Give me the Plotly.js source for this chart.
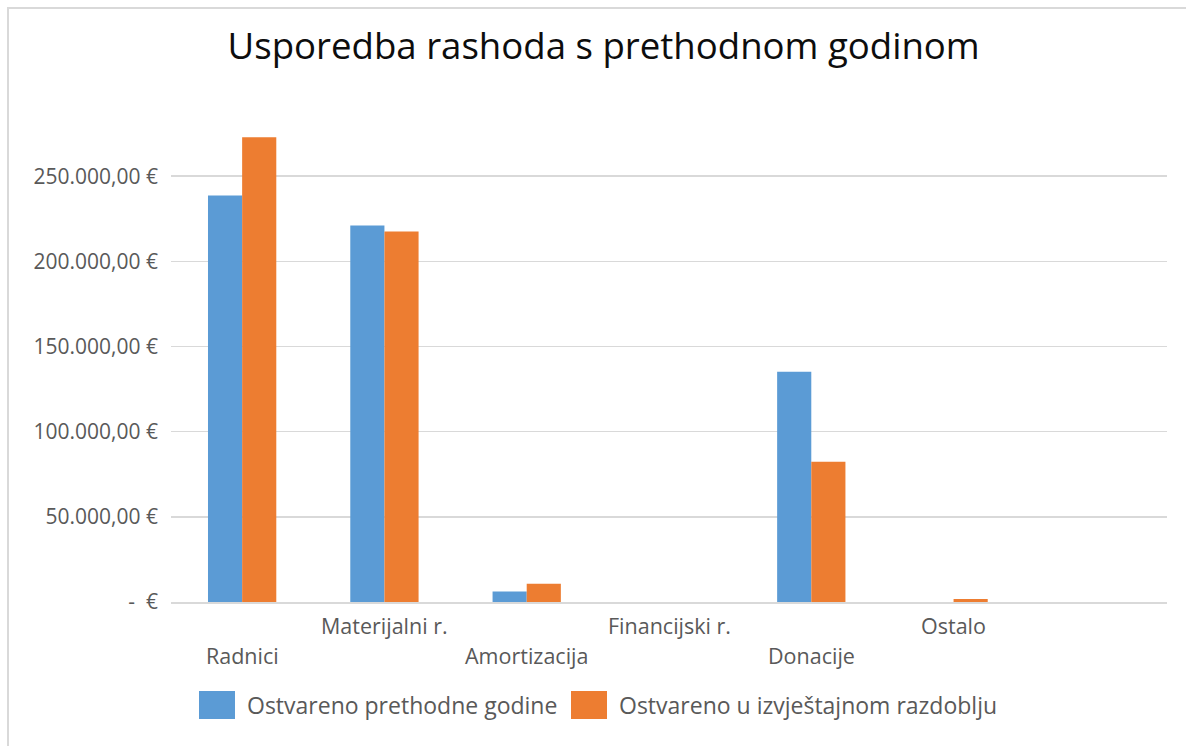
<!DOCTYPE html>
<html>
<head>
<meta charset="utf-8">
<script src="https://cdn.plot.ly/plotly-3.0.1.min.js"></script>
<style>
  html, body { margin: 0; padding: 0; background: #ffffff; overflow: hidden; }
  #chart { position: absolute; left: 0; top: 0; width: 1186px; height: 746px; }
  #frame { position: absolute; left: 7px; top: 7px; width: 1300px; height: 900px;
           border-left: 2px solid #d9d9d9; border-top: 2px solid #d9d9d9; pointer-events: none; }
</style>
</head>
<body>
<div id="chart"></div>
<div id="frame"></div>
<script>
// ---- data ----
const categories = ["Radnici", "Materijalni r.", "Amortizacija", "Financijski r.", "Donacije", "Ostalo"];
const seriesNames = ["Ostvareno prethodne godine", "Ostvareno u izvještajnom razdoblju"];
const prevYear = [238600, 221000, 6200, 0, 135200, 0];
const currPeriod = [272900, 217500, 10700, 0, 82400, 1800];
const yTickVals = [0, 50000, 100000, 150000, 200000, 250000];
const yTickText = ["-  €", "50.000,00 €", "100.000,00 €", "150.000,00 €", "200.000,00 €", "250.000,00 €"];
const colors = ["#5B9BD5", "#ED7D31"];

const FONT = "Open Sans, Segoe UI, Liberation Sans, sans-serif";
const GREY = "#595959";

const traces = [
  { type: "bar", x: categories, y: prevYear, name: seriesNames[0],
    marker: { color: colors[0] }, hoverinfo: "x+y+name" },
  { type: "bar", x: categories, y: currPeriod, name: seriesNames[1],
    marker: { color: colors[1] }, hoverinfo: "x+y+name" }
];

// staggered category labels (Excel style)
const catAnnotations = categories.map((c, i) => ({
  x: c, xref: "x", y: 0, yref: "y",
  text: c, showarrow: false,
  xanchor: "center", yanchor: "middle",
  yshift: (i % 2 === 0) ? -53 : -23,
  font: { family: FONT, size: 21.5, color: GREY }
}));

// custom legend (large square swatches)
const plotL = 171, plotW = 996, plotB = 602, plotH = 511;
const px = v => (v - plotL) / plotW;
const py = v => (plotB - v) / plotH;
const legendItems = [
  { sw: [199, 235], tx: 245 },
  { sw: [571, 607], tx: 617 }
];
const legendShapes = legendItems.map((it, i) => ({
  type: "rect", xref: "paper", yref: "paper",
  x0: px(it.sw[0]), x1: px(it.sw[1]), y0: py(719), y1: py(691),
  fillcolor: colors[i], line: { width: 0 }
}));
const legendTexts = legendItems.map((it, i) => ({
  xref: "paper", yref: "paper", x: px(it.tx), y: py(705),
  text: seriesNames[i], showarrow: false, xanchor: "left", yanchor: "middle",
  font: { family: FONT, size: 23, color: GREY }
}));

const layout = {
  width: 1186, height: 746,
  paper_bgcolor: "#ffffff", plot_bgcolor: "#ffffff",
  margin: { l: 171, r: 19, t: 91, b: 144, pad: 0 },
  title: {
    text: "Usporedba rashoda s prethodnom godinom",
    font: { family: FONT, size: 36.6, color: "#0d0d0d" },
    xref: "container", x: 0.509, xanchor: "center",
    yref: "container", y: 1 - 46 / 746, yanchor: "middle"
  },
  showlegend: false,
  barmode: "group",
  bargap: 0.52,
  bargroupgap: 0,
  xaxis: {
    type: "category",
    categoryorder: "array", categoryarray: categories,
    range: [-0.5, 6.5],
    showticklabels: false,
    showgrid: false, zeroline: false,
    showline: true, linecolor: "#d9d9d9", linewidth: 2,
    ticks: "", fixedrange: true
  },
  yaxis: {
    range: [0, 300000],
    tickvals: yTickVals, ticktext: yTickText,
    tickfont: { family: FONT, size: 21, color: GREY },
    ticks: "", ticklabelstandoff: 12,
    showgrid: true, gridcolor: "#d9d9d9", gridwidth: 1.5,
    zeroline: false, showline: false, fixedrange: true
  },
  shapes: legendShapes,
  annotations: catAnnotations.concat(legendTexts)
};

Plotly.newPlot("chart", traces, layout, { displayModeBar: false, staticPlot: true });
</script>
</body>
</html>
